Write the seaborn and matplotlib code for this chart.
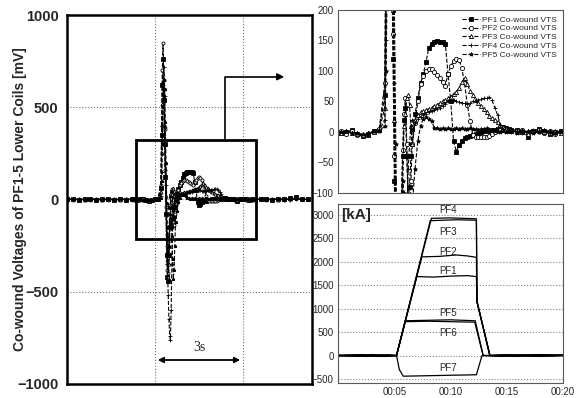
import numpy as np
import pandas as pd
import matplotlib.pyplot as plt
import seaborn as sns
from matplotlib.patches import Rectangle

# ---------------- co-wound voltage samples (mV) ----------------
# time base in seconds
t_sec = [0.0, 0.2, 0.4, 0.6, 0.8, 1.0, 1.2, 1.4, 1.6, 1.8, 2.0, 2.2,
         2.3, 2.4, 2.5, 2.6, 2.7, 2.8, 2.9, 3.0, 3.1,
         3.2, 3.225, 3.25, 3.275, 3.3, 3.325, 3.35, 3.375, 3.4, 3.425, 3.45,
         3.475, 3.5, 3.525, 3.55, 3.575, 3.6, 3.625, 3.65, 3.675, 3.7,
         3.75, 3.8, 3.85, 3.9, 3.95, 4.0, 4.05, 4.1, 4.15, 4.2, 4.25, 4.3,
         4.35, 4.4, 4.45, 4.5, 4.55, 4.6, 4.65, 4.7, 4.75, 4.8, 4.85, 4.9,
         4.95, 5.0, 5.05, 5.1, 5.15, 5.2, 5.25, 5.3, 5.35, 5.4, 5.45, 5.5,
         5.6, 5.7, 5.8, 5.9, 6.0, 6.1, 6.2, 6.3, 6.4,
         6.6, 6.8, 7.0, 7.2, 7.4, 7.6, 7.8, 8.0, 8.2]

pf1_mv = [0, 3, -2, 1, 4, -1, 0, 2, -3, 1, -1, 2,
          1, -2, 0, 3, -4, -6, -5, 1, 4,
          60, 350, 620, 760, 540, 300, 120, -80, -300, -420, -440,
          -300, -150, -40, 20, 40, -40, -110, -90, -40, 5,
          30, 55, 80, 95, 115, 138, 145, 148, 149, 148, 147, 145,
          95, 50, -15, -32, -22, -15, -10, -8, -6, -5, -3, -2,
          0, 2, 3, 2, 4, 3, 5, 6, 8, 6, 5, 4,
          3, 0, -8, 2, 5, 1, -3, 0, 2,
          4, 1, -2, 3, 0, 6, 12, 5, 2]

pf2_mv = [1, -1, 2, 0, -2, 3, 1, -1, 2, 0, 3, -1,
          0, 2, -3, 1, -5, -7, -3, 2, 5,
          80, 400, 700, 850, 650, 380, 160, -40, -250, -380, -400,
          -260, -120, -30, 30, 55, -20, -120, -140, -80, -20,
          15, 50, 78, 92, 100, 104, 103, 99, 94, 88, 82, 76,
          95, 108, 116, 120, 118, 105, 80, 45, 18, -5, -8, -9,
          -8, -9, -8, -7, -3, 0, 2, 3, 4, 3, 2, 2,
          1, 4, -2, 0, 3, -1, 2, -4, 0,
          2, -1, 3, 0, -2, 4, 8, 3, 0]

pf3_mv = [-1, 2, 0, -2, 1, 2, -1, 0, 1, -2, 1, 0,
          2, -1, 1, -2, -3, -5, -2, 0, 3,
          40, 250, 520, 680, 600, 400, 200, 20, -180, -330, -420,
          -350, -220, -100, 10, 30, 55, 60, 45, 10, -20,
          20, 28, 32, 34, 36, 38, 40, 43, 45, 47, 50, 52,
          55, 58, 62, 66, 72, 82, 88, 78, 68, 60, 53, 47,
          42, 37, 32, 27, 23, 20, 17, 12, 9, 5, 3, 2,
          0, 3, -3, 1, 2, 0, -2, 1, -1,
          1, 0, 2, -1, 1, 3, 6, 2, 1]

pf4_mv = [2, 0, -1, 3, 0, -2, 2, 1, -1, 0, 2, 1,
          -1, 1, 2, -2, -2, -4, -3, 1, 2,
          20, 150, 400, 620, 720, 560, 300, 80, -150, -350, -520,
          -650, -740, -760, -600, -350, -150, -60, -20, 10, 20,
          15, 22, 25, 28, 30, 32, 34, 36, 38, 40, 43, 46,
          50, 53, 52, 50, 49, 48, 47, 46, 48, 50, 51, 52,
          54, 55, 56, 57, 52, 40, 28, 12, 5, 2, 1, 0,
          2, -2, 1, 4, 0, 2, -1, -3, 1,
          0, 2, -1, 1, 3, -2, 4, 1, 0]

pf5_mv = [0, 1, 2, -1, 0, 1, -2, 2, 0, 1, -1, 0,
          -2, 0, 1, -1, -2, -4, -1, 2, 1,
          10, 100, 300, 500, 650, 600, 420, 200, -20, -200, -300,
          -250, -150, -80, -100, -200, -320, -430, -380, -250, -120,
          -60, -15, 10, 22, 25, 22, 18, 7, 6, 5, 6, 5,
          6, 5, 5, 6, 5, 6, 5, 5, 6, 5, 5, 4,
          5, 5, 6, 4, 3, 2, 1, 0, 1, 0, 2, 1,
          -1, 1, 2, -2, 0, 3, 1, -1, 0,
          1, -1, 0, 2, -1, 1, 5, 2, -1]

vts_names = ['PF1', 'PF2', 'PF3', 'PF4', 'PF5']

# ---------------- PF coil currents (kA) ----------------
pf1_t = [0.0, 1.0, 3.0, 5.2, 7.0, 8.5, 10.0, 11.5, 12.3, 12.35, 13.5, 14.5, 16.5, 19.0, 20.0]
pf1_ka = [5, -15, 20, 0, 1680, 1670, 1690, 1700, 1680, 1150, 0, -15, 15, -10, 0]
pf2_t = [0.0, 1.5, 3.5, 5.2, 7.45, 9.0, 10.5, 11.5, 12.3, 12.35, 13.5, 15.0, 17.0, 20.0]
pf2_ka = [-10, 15, -20, 0, 2100, 2110, 2140, 2120, 2090, 1150, 0, 20, -10, 10]
pf3_t = [0.0, 2.5, 4.5, 5.2, 8.2, 10.5, 12.3, 12.35, 13.5, 15.5, 17.5, 20.0]
pf3_ka = [10, -20, 15, 0, 2870, 2890, 2880, 1150, 0, -10, 20, 5]
pf4_t = [0.0, 2.0, 4.0, 5.2, 8.3, 10.0, 12.3, 12.35, 13.5, 16.0, 18.0, 20.0]
pf4_ka = [0, 20, -15, 0, 2920, 2930, 2910, 1150, 0, 15, -20, 0]
pf5_t = [0.0, 2.0, 4.0, 5.2, 6.0, 8.0, 10.0, 12.2, 12.9, 15.0, 17.5, 20.0]
pf5_ka = [-5, 15, -10, 0, 740, 750, 760, 740, 0, 10, -15, 5]
pf6_t = [0.0, 1.8, 3.8, 5.2, 5.95, 8.0, 10.0, 12.15, 12.9, 16.0, 18.5, 20.0]
pf6_ka = [0, -20, 10, 0, 720, 730, 720, 710, 0, -20, 10, 0]
pf7_t = [0.0, 2.2, 4.2, 5.2, 5.45, 5.8, 8.0, 10.0, 12.3, 12.8, 15.5, 18.0, 20.0]
pf7_ka = [0, 10, -20, 0, -300, -440, -430, -420, -410, 0, -10, 20, 0]

coil_names = ['PF1', 'PF2', 'PF3', 'PF4', 'PF5', 'PF6', 'PF7']
coil_label_ka = [1800, 2200, 2630, 3100, 900, 480, -270]
clock_labels = ['00:05', '00:10', '00:15', '00:20']

vts = pd.DataFrame({'t': t_sec, 'PF1': pf1_mv, 'PF2': pf2_mv, 'PF3': pf3_mv,
                    'PF4': pf4_mv, 'PF5': pf5_mv})
currents = pd.concat([
    pd.DataFrame({'t': tt, 'kA': ii, 'coil': nm})
    for tt, ii, nm in zip([pf1_t, pf2_t, pf3_t, pf4_t, pf5_t, pf6_t, pf7_t],
                          [pf1_ka, pf2_ka, pf3_ka, pf4_ka, pf5_ka, pf6_ka, pf7_ka],
                          coil_names)])

sns.set_style("white")
plt.rcParams['font.family'] = ['Liberation Sans', 'DejaVu Sans']

fig = plt.figure(figsize=(5.79, 3.98), dpi=100)
ax_v = fig.add_axes([0.1157, 0.0352, 0.4231, 0.9271])
ax_z = fig.add_axes([0.5838, 0.5151, 0.3886, 0.4598])
ax_i = fig.add_axes([0.5838, 0.0377, 0.3886, 0.4497])

marker_style = {
    'PF1': dict(marker='s', mfc='black'),
    'PF2': dict(marker='o', mfc='white'),
    'PF3': dict(marker='^', mfc='white'),
    'PF4': dict(marker='+', mfc='black'),
    'PF5': dict(marker='*', mfc='black'),
}

for name in vts_names:
    for ax, ms in ((ax_v, 2.2), (ax_z, 3.0)):
        lab = name + ' Co-wound VTS' if ax is ax_z else '_nolegend_'
        sns.lineplot(data=vts, x='t', y=name, ax=ax, color='black', lw=0.8,
                     ls='--', ms=ms, mec='black', mew=0.6, label=lab,
                     estimator=None, sort=False, **marker_style[name])

# ---- left panel ----
ax_v.set_xlim(0, 8.35)
ax_v.set_ylim(-1000, 1000)
ax_v.set_xticks([3, 6])
ax_v.set_yticks([-1000, -500, 0, 500, 1000])
ax_v.tick_params(axis='x', length=0, labelbottom=False)
ax_v.tick_params(axis='y', direction='out', length=4, width=1.4, labelsize=10.5, pad=2)
for lbl in ax_v.get_yticklabels():
    lbl.set_fontweight('bold')
ax_v.grid(True, ls=':', color='0.45', lw=0.8)
for sp in ax_v.spines.values():
    sp.set_linewidth(1.8)
    sp.set_color('black')
ax_v.set_xlabel('')
ax_v.set_ylabel('Co-wound Voltages of PF1-5 Lower Coils [mV]', fontsize=10,
                fontweight='bold')
ax_v.yaxis.set_label_coords(-0.165, 0.5)
if ax_v.get_legend() is not None:
    ax_v.get_legend().remove()

ax_v.add_patch(Rectangle((2.35, -215), 4.09, 535, fill=False, lw=2.0,
                         ec='black', zorder=6))
ax_v.plot([5.39, 5.39, 7.2], [320, 665, 665], color='black', lw=1.2, zorder=6)
ax_v.annotate('', xy=(7.5, 665), xytext=(7.1, 665),
              arrowprops=dict(arrowstyle='-|>', color='black', lw=1.2,
                              mutation_scale=10), zorder=6)
ax_v.annotate('', xy=(3.0, -870), xytext=(6.0, -870),
              arrowprops=dict(arrowstyle='<|-|>', color='black', lw=1.3,
                              mutation_scale=8))
ax_v.text(4.5, -800, '3s', family=['Liberation Serif', 'DejaVu Serif'],
          fontsize=10, ha='center', va='center')

# ---- zoomed panel ----
ax_z.set_xlim(2.35, 6.44)
ax_z.set_ylim(-100, 200)
ax_z.set_xticks([])
ax_z.set_yticks([-100, -50, 0, 50, 100, 150, 200])
ax_z.tick_params(axis='y', length=0, labelsize=7, pad=3)
ax_z.set_xlabel('')
ax_z.set_ylabel('')
for sp in ax_z.spines.values():
    sp.set_linewidth(0.8)
    sp.set_color('0.35')
ax_z.legend(loc='upper right', frameon=False, fontsize=6, handlelength=2.2,
            labelspacing=0.12, borderaxespad=0.3, handletextpad=0.3)

# ---- coil current panel ----
for name in coil_names:
    sns.lineplot(data=currents[currents['coil'] == name], x='t', y='kA',
                 ax=ax_i, color='black', lw=0.9, estimator=None, sort=False)
ax_i.set_xlim(0, 20)
ax_i.set_ylim(-585, 3225)
ax_i.set_yticks([-500, 0, 500, 1000, 1500, 2000, 2500, 3000])
ax_i.set_xticks([5, 10, 15, 20])
ax_i.set_xticklabels(clock_labels)
ax_i.tick_params(axis='both', labelsize=7, pad=3)
ax_i.tick_params(axis='x', direction='in', length=3, width=0.6)
ax_i.tick_params(axis='y', length=0)
ax_i.grid(True, axis='y', ls=':', color='0.5', lw=0.8)
ax_i.set_xlabel('')
ax_i.set_ylabel('')
for sp in ax_i.spines.values():
    sp.set_linewidth(0.8)
    sp.set_color('0.35')
for name, yk in zip(coil_names, coil_label_ka):
    ax_i.text(9.8, yk, name, fontsize=7, ha='center', va='center')
ax_i.text(0.3, 3000, '[kA]', fontsize=11, fontweight='bold', ha='left',
          va='center')

fig.savefig('out.png', dpi=100)
